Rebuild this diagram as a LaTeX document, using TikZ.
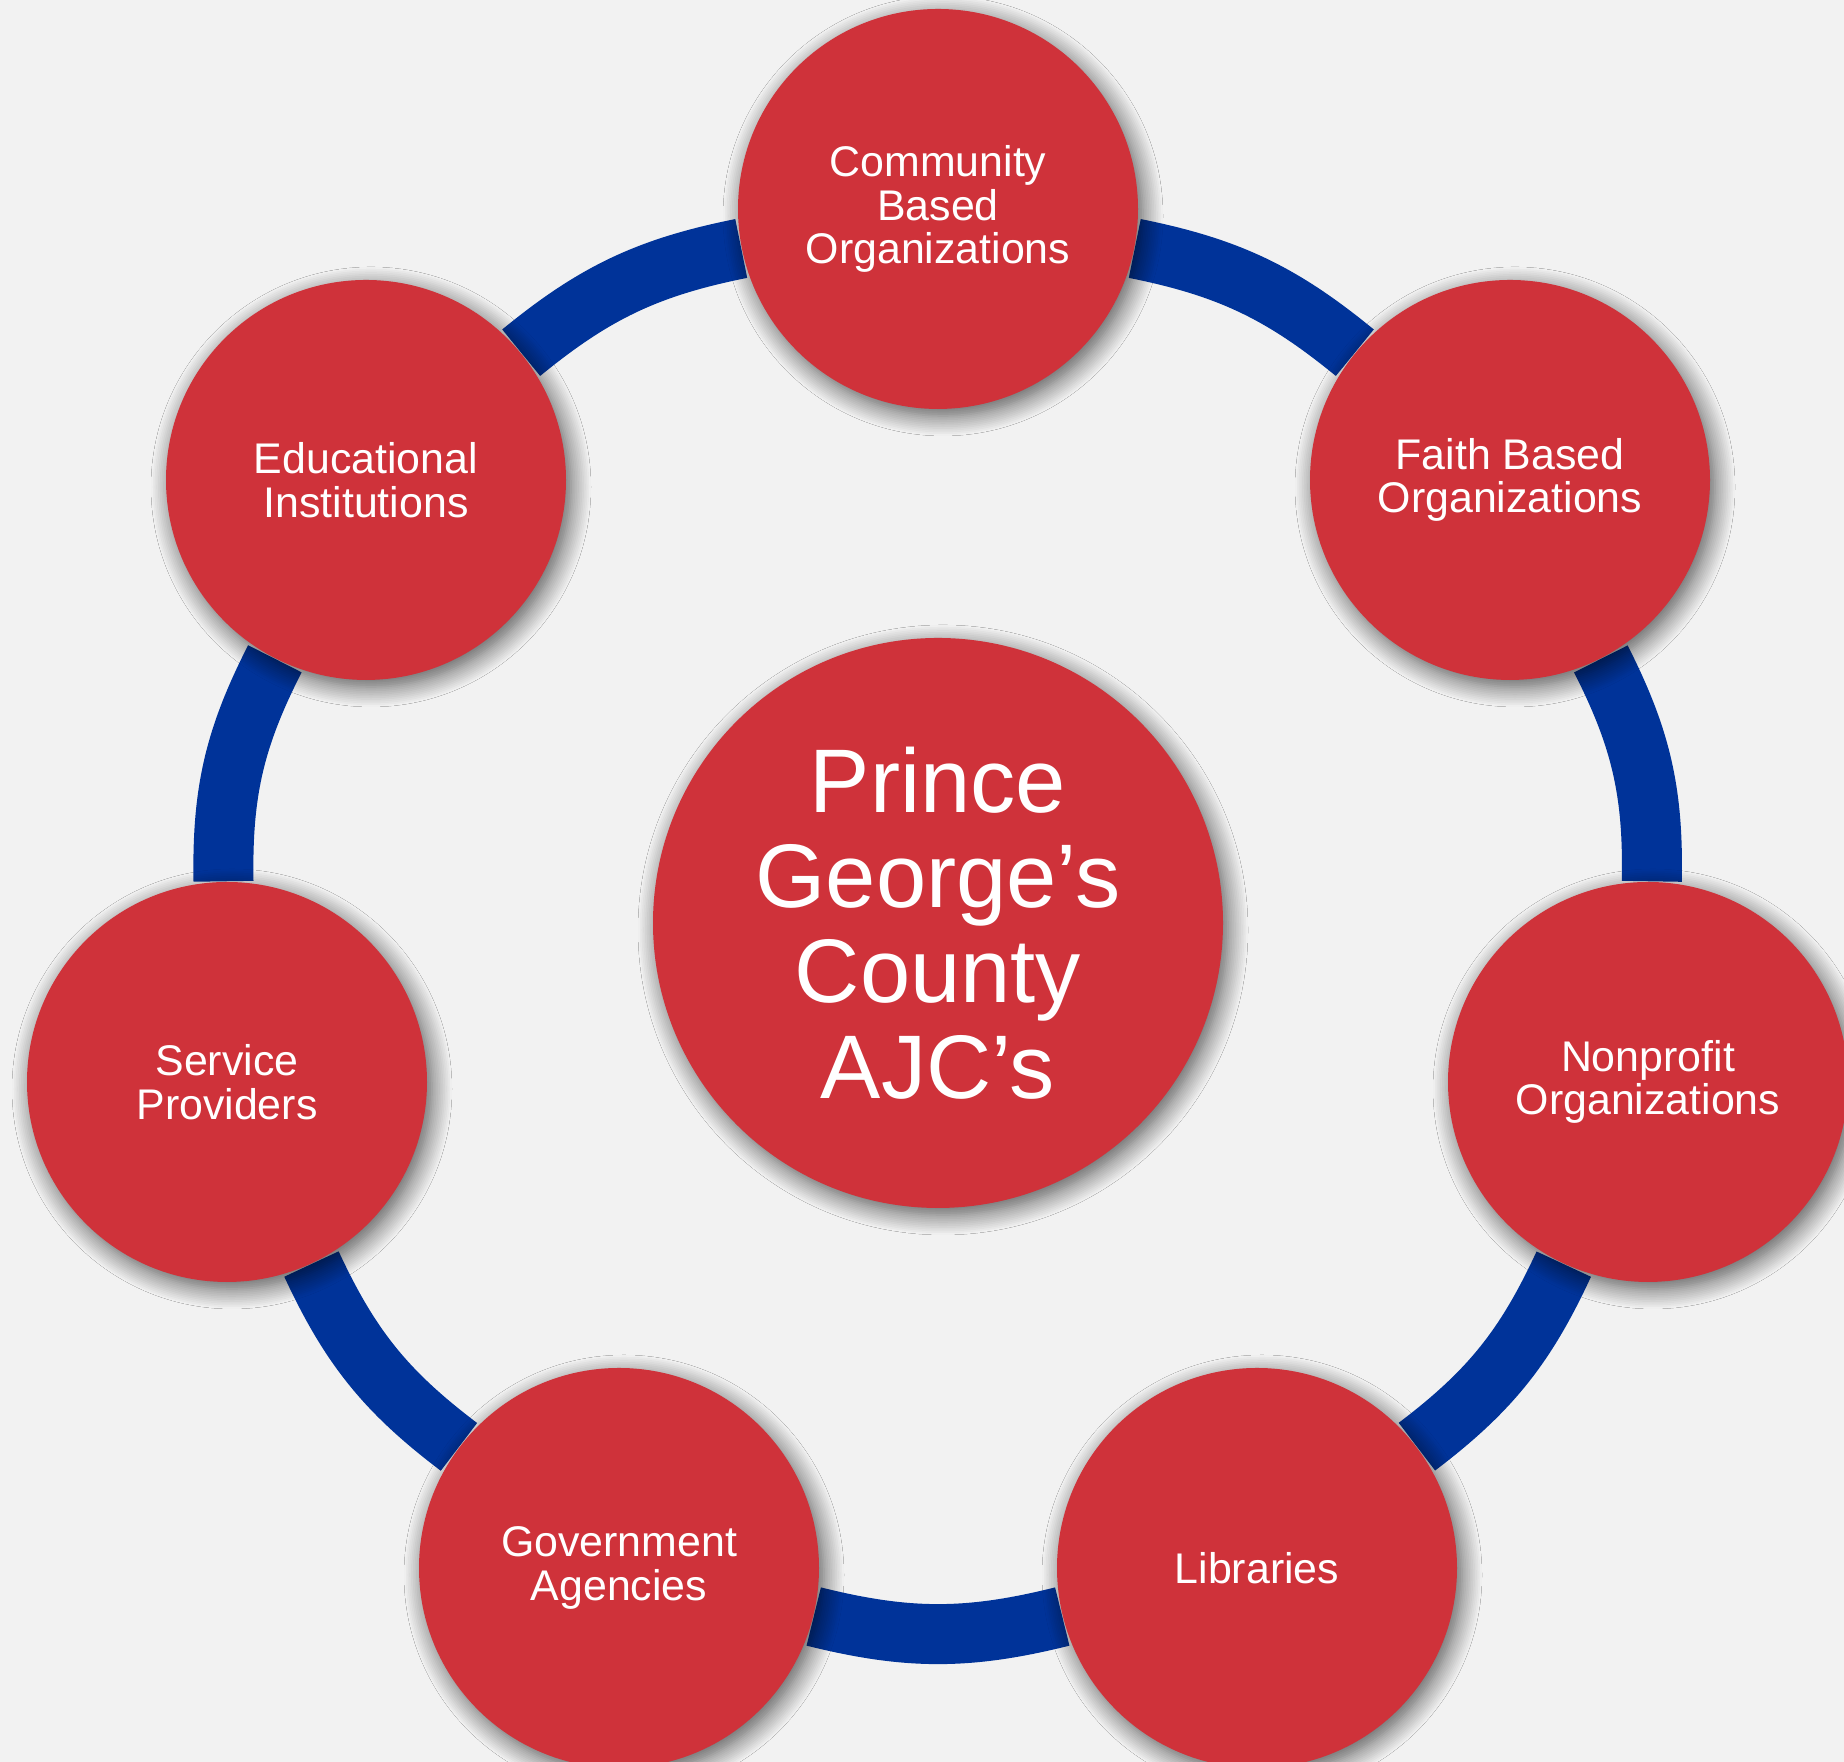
\documentclass[tikz,border=0pt]{standalone}
\usepackage{fontspec}
\setmainfont{Liberation Sans}
\usepackage{tikz}
\usetikzlibrary{shadows.blur,backgrounds}
\usepackage{xcolor}
\definecolor{ajcred}{RGB}{207,50,58}
\definecolor{ajcblue}{RGB}{0,51,153}
\definecolor{ajcgray}{RGB}{242,242,242}
\tikzstyle{partner} = [circle, fill=ajcred, text=white, minimum size=4cm, inner sep=0pt, align=center, font=\fontsize{12.2}{12.4}\selectfont, blur shadow={shadow xshift=0.05cm, shadow yshift=-0.07cm, shadow blur radius=0.2cm, shadow blur steps=12, shadow opacity=65}]
\tikzstyle{hub} = [partner, minimum size=5.7cm, font=\fontsize{25.7}{27.1}\selectfont]
\tikzstyle{ring} = [line width=0.6cm, color=ajcblue]

\begin{document}
\begin{tikzpicture}
% Canvas
\useasboundingbox (0,0) rectangle (18.44,17.62);

% Centre
\node[hub] (ajc) at (9.38,8.39) {Prince\\George’s\\County\\AJC’s};

% Partners
\node[partner] (cbo) at (9.38,15.53) {Community\\Based\\Organizations};
\node[partner] (fbo) at (15.10,12.82) {Faith Based\\Organizations};
\node[partner] (npo) at (16.48,6.80) {Nonprofit\\Organizations};
\node[partner] (lib) at (12.57,1.94) {Libraries};
\node[partner] (gov) at (6.19,1.94) {Government\\Agencies};
\node[partner] (svc) at (2.27,6.80) {Service\\Providers};
\node[partner] (edu) at (3.66,12.82) {Educational\\Institutions};

% Ring
\begin{scope}[on background layer]
\fill[ajcgray] (0,0) rectangle (18.44,17.62);
\draw[ring] (cbo) to[bend left=14] (fbo);
\draw[ring] (fbo) to[bend left=14] (npo);
\draw[ring] (npo) to[bend left=14] (lib);
\draw[ring] (lib) to[bend left=14] (gov);
\draw[ring] (gov) to[bend left=14] (svc);
\draw[ring] (svc) to[bend left=14] (edu);
\draw[ring] (edu) to[bend left=14] (cbo);
\end{scope}
\end{tikzpicture}
\end{document}
